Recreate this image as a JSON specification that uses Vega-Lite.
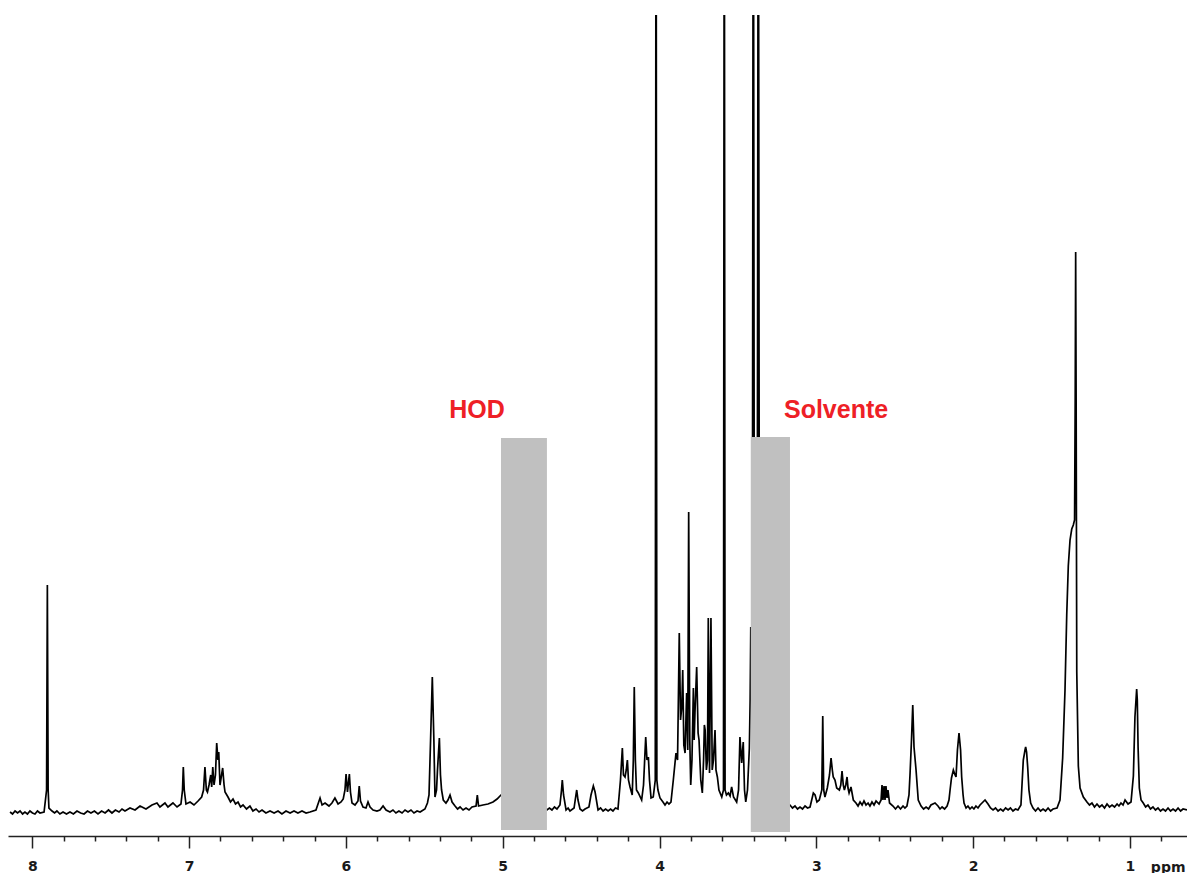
{
  "$schema": "https://vega.github.io/schema/vega-lite/v6.json",
  "width": 1179,
  "height": 821,
  "autosize": "none",
  "padding": {"left": 8, "top": 15, "right": 0, "bottom": 37},
  "background": "white",
  "config": {"view": {"stroke": null}},
  "resolve": {"axis": {"x": "independent"}},
  "layer": [
    {
      "data": {"values": [
        {"ppm":8.142,"intensity":0},{"ppm":8.126,"intensity":-2},{"ppm":8.110,"intensity":1},{"ppm":8.094,"intensity":-1},{"ppm":8.078,"intensity":1},{"ppm":8.062,"intensity":-2},{"ppm":8.047,"intensity":0},{"ppm":8.031,"intensity":-2},{"ppm":8.015,"intensity":1},{"ppm":7.999,"intensity":-1},{"ppm":7.983,"intensity":-2},{"ppm":7.967,"intensity":1},{"ppm":7.951,"intensity":-1},{"ppm":7.925,"intensity":0},
        {"ppm":7.909,"intensity":22},{"ppm":7.904,"intensity":227},{"ppm":7.899,"intensity":22},{"ppm":7.894,"intensity":4},{"ppm":7.874,"intensity":1},
        {"ppm":7.858,"intensity":-1},{"ppm":7.843,"intensity":1},{"ppm":7.824,"intensity":-2},{"ppm":7.804,"intensity":0},{"ppm":7.782,"intensity":-2},{"ppm":7.760,"intensity":0},{"ppm":7.738,"intensity":-2},{"ppm":7.715,"intensity":1},{"ppm":7.692,"intensity":-1},{"ppm":7.670,"intensity":-2},{"ppm":7.648,"intensity":1},{"ppm":7.626,"intensity":-1},{"ppm":7.604,"intensity":1},{"ppm":7.581,"intensity":-2},{"ppm":7.558,"intensity":1},{"ppm":7.536,"intensity":-1},{"ppm":7.514,"intensity":2},{"ppm":7.492,"intensity":-1},{"ppm":7.470,"intensity":2},{"ppm":7.447,"intensity":0},{"ppm":7.428,"intensity":3},{"ppm":7.409,"intensity":1},{"ppm":7.377,"intensity":4},{"ppm":7.345,"intensity":2},{"ppm":7.313,"intensity":6},{"ppm":7.275,"intensity":3},{"ppm":7.237,"intensity":7},{"ppm":7.205,"intensity":9},{"ppm":7.186,"intensity":5},{"ppm":7.154,"intensity":9},{"ppm":7.135,"intensity":5},{"ppm":7.103,"intensity":9},{"ppm":7.077,"intensity":5},{"ppm":7.052,"intensity":8},
        {"ppm":7.042,"intensity":22},{"ppm":7.037,"intensity":45},{"ppm":7.031,"intensity":22},{"ppm":7.020,"intensity":8},{"ppm":6.994,"intensity":10},{"ppm":6.969,"intensity":7},{"ppm":6.943,"intensity":11},{"ppm":6.920,"intensity":15},
        {"ppm":6.908,"intensity":22},{"ppm":6.899,"intensity":45},{"ppm":6.890,"intensity":22},{"ppm":6.883,"intensity":20},{"ppm":6.873,"intensity":27},{"ppm":6.862,"intensity":37},{"ppm":6.856,"intensity":25},{"ppm":6.849,"intensity":45},{"ppm":6.841,"intensity":27},{"ppm":6.832,"intensity":37},{"ppm":6.824,"intensity":69},{"ppm":6.816,"intensity":52},{"ppm":6.811,"intensity":60},{"ppm":6.803,"intensity":27},{"ppm":6.793,"intensity":37},{"ppm":6.786,"intensity":44},{"ppm":6.777,"intensity":27},{"ppm":6.771,"intensity":20},{"ppm":6.752,"intensity":15},{"ppm":6.736,"intensity":10},{"ppm":6.720,"intensity":13},{"ppm":6.704,"intensity":8},{"ppm":6.688,"intensity":10},{"ppm":6.672,"intensity":5},{"ppm":6.656,"intensity":7},{"ppm":6.634,"intensity":3},{"ppm":6.612,"intensity":6},{"ppm":6.593,"intensity":1},{"ppm":6.573,"intensity":3},{"ppm":6.554,"intensity":0},{"ppm":6.535,"intensity":2},{"ppm":6.510,"intensity":-1},{"ppm":6.484,"intensity":1},{"ppm":6.458,"intensity":-1},{"ppm":6.433,"intensity":1},{"ppm":6.408,"intensity":-2},{"ppm":6.382,"intensity":1},{"ppm":6.356,"intensity":-1},{"ppm":6.331,"intensity":1},{"ppm":6.306,"intensity":-1},{"ppm":6.280,"intensity":1},{"ppm":6.254,"intensity":-1},{"ppm":6.229,"intensity":0},
        {"ppm":6.191,"intensity":2},{"ppm":6.165,"intensity":14},{"ppm":6.152,"intensity":7},{"ppm":6.133,"intensity":9},{"ppm":6.108,"intensity":6},{"ppm":6.089,"intensity":9},{"ppm":6.070,"intensity":14},{"ppm":6.050,"intensity":8},{"ppm":6.031,"intensity":10},{"ppm":6.017,"intensity":13},{"ppm":6.006,"intensity":22},{"ppm":5.999,"intensity":38},{"ppm":5.990,"intensity":20},{"ppm":5.978,"intensity":38},{"ppm":5.971,"intensity":20},{"ppm":5.961,"intensity":9},{"ppm":5.942,"intensity":7},{"ppm":5.923,"intensity":11},{"ppm":5.915,"intensity":26},{"ppm":5.907,"intensity":11},{"ppm":5.891,"intensity":5},{"ppm":5.872,"intensity":4},{"ppm":5.859,"intensity":10},{"ppm":5.846,"intensity":5},{"ppm":5.827,"intensity":2},{"ppm":5.802,"intensity":1},{"ppm":5.783,"intensity":2},{"ppm":5.763,"intensity":6},{"ppm":5.744,"intensity":2},{"ppm":5.719,"intensity":0},{"ppm":5.700,"intensity":2},{"ppm":5.681,"intensity":-1},{"ppm":5.662,"intensity":1},{"ppm":5.642,"intensity":-1},{"ppm":5.623,"intensity":2},{"ppm":5.604,"intensity":0},{"ppm":5.585,"intensity":2},{"ppm":5.566,"intensity":-1},{"ppm":5.546,"intensity":1},{"ppm":5.527,"intensity":0},{"ppm":5.496,"intensity":3},
        {"ppm":5.480,"intensity":9},{"ppm":5.470,"intensity":17},{"ppm":5.460,"intensity":72},{"ppm":5.449,"intensity":135},{"ppm":5.439,"intensity":72},{"ppm":5.432,"intensity":15},{"ppm":5.422,"intensity":22},{"ppm":5.416,"intensity":42},{"ppm":5.404,"intensity":74},{"ppm":5.397,"intensity":37},{"ppm":5.390,"intensity":22},{"ppm":5.379,"intensity":12},{"ppm":5.362,"intensity":9},{"ppm":5.349,"intensity":12},{"ppm":5.336,"intensity":17},{"ppm":5.323,"intensity":10},{"ppm":5.304,"intensity":6},{"ppm":5.288,"intensity":3},{"ppm":5.272,"intensity":5},{"ppm":5.253,"intensity":2},{"ppm":5.234,"intensity":4},{"ppm":5.215,"intensity":2},{"ppm":5.196,"intensity":5},{"ppm":5.170,"intensity":6},{"ppm":5.162,"intensity":17},{"ppm":5.154,"intensity":6},{"ppm":5.126,"intensity":7},{"ppm":5.094,"intensity":8},{"ppm":5.062,"intensity":10},{"ppm":5.036,"intensity":13},{"ppm":5.011,"intensity":17},{"ppm":4.864,"intensity":20},
        {"ppm":4.718,"intensity":2},{"ppm":4.702,"intensity":4},{"ppm":4.686,"intensity":2},{"ppm":4.670,"intensity":5},{"ppm":4.654,"intensity":3},{"ppm":4.635,"intensity":7},{"ppm":4.625,"intensity":22},{"ppm":4.620,"intensity":32},{"ppm":4.612,"intensity":17},{"ppm":4.596,"intensity":2},{"ppm":4.583,"intensity":4},{"ppm":4.571,"intensity":1},{"ppm":4.545,"intensity":4},{"ppm":4.533,"intensity":17},{"ppm":4.528,"intensity":22},{"ppm":4.520,"intensity":12},{"ppm":4.507,"intensity":3},{"ppm":4.491,"intensity":1},{"ppm":4.475,"intensity":3},{"ppm":4.450,"intensity":5},{"ppm":4.437,"intensity":17},{"ppm":4.422,"intensity":26},{"ppm":4.411,"intensity":20},{"ppm":4.392,"intensity":2},{"ppm":4.376,"intensity":4},{"ppm":4.360,"intensity":1},{"ppm":4.344,"intensity":3},{"ppm":4.328,"intensity":1},{"ppm":4.312,"intensity":3},{"ppm":4.297,"intensity":1},{"ppm":4.281,"intensity":4},{"ppm":4.265,"intensity":3},
        {"ppm":4.249,"intensity":32},{"ppm":4.237,"intensity":64},{"ppm":4.230,"intensity":37},{"ppm":4.220,"intensity":35},{"ppm":4.212,"intensity":42},{"ppm":4.205,"intensity":52},{"ppm":4.198,"intensity":32},{"ppm":4.188,"intensity":25},{"ppm":4.174,"intensity":17},{"ppm":4.167,"intensity":52},{"ppm":4.161,"intensity":125},{"ppm":4.154,"intensity":52},{"ppm":4.147,"intensity":22},{"ppm":4.135,"intensity":19},{"ppm":4.114,"intensity":12},{"ppm":4.102,"intensity":27},{"ppm":4.088,"intensity":75},{"ppm":4.080,"intensity":52},{"ppm":4.071,"intensity":55},{"ppm":4.064,"intensity":32},{"ppm":4.054,"intensity":14},{"ppm":4.040,"intensity":15},{"ppm":4.027,"intensity":32},{"ppm":4.022,"intensity":1100},{"ppm":4.017,"intensity":32},{"ppm":4.010,"intensity":22},{"ppm":3.997,"intensity":14},{"ppm":3.978,"intensity":10},{"ppm":3.965,"intensity":7},{"ppm":3.952,"intensity":10},{"ppm":3.940,"intensity":8},{"ppm":3.927,"intensity":10},
        {"ppm":3.912,"intensity":32},{"ppm":3.895,"intensity":59},{"ppm":3.885,"intensity":52},{"ppm":3.874,"intensity":179},{"ppm":3.866,"intensity":92},{"ppm":3.858,"intensity":105},{"ppm":3.852,"intensity":142},{"ppm":3.845,"intensity":67},{"ppm":3.837,"intensity":59},{"ppm":3.827,"intensity":119},{"ppm":3.820,"intensity":62},{"ppm":3.814,"intensity":300},{"ppm":3.807,"intensity":72},{"ppm":3.801,"intensity":27},{"ppm":3.793,"intensity":52},{"ppm":3.784,"intensity":124},{"ppm":3.779,"intensity":72},{"ppm":3.774,"intensity":99},{"ppm":3.763,"intensity":145},{"ppm":3.754,"intensity":79},{"ppm":3.748,"intensity":72},{"ppm":3.737,"intensity":32},{"ppm":3.727,"intensity":19},{"ppm":3.719,"intensity":52},{"ppm":3.714,"intensity":87},{"ppm":3.709,"intensity":82},{"ppm":3.701,"intensity":42},{"ppm":3.694,"intensity":52},{"ppm":3.689,"intensity":194},{"ppm":3.681,"intensity":39},{"ppm":3.672,"intensity":194},{"ppm":3.664,"intensity":42},{"ppm":3.656,"intensity":52},{"ppm":3.646,"intensity":82},{"ppm":3.640,"intensity":42},{"ppm":3.631,"intensity":35},{"ppm":3.621,"intensity":22},{"ppm":3.603,"intensity":15},{"ppm":3.592,"intensity":22},{"ppm":3.587,"intensity":1100},{"ppm":3.582,"intensity":22},{"ppm":3.573,"intensity":17},{"ppm":3.561,"intensity":19},{"ppm":3.550,"intensity":16},{"ppm":3.540,"intensity":25},{"ppm":3.528,"intensity":15},{"ppm":3.508,"intensity":10},{"ppm":3.496,"intensity":22},{"ppm":3.487,"intensity":75},{"ppm":3.476,"intensity":49},{"ppm":3.466,"intensity":70},{"ppm":3.458,"intensity":22},{"ppm":3.450,"intensity":10},{"ppm":3.439,"intensity":22},{"ppm":3.427,"intensity":64},{"ppm":3.422,"intensity":112},{"ppm":3.418,"intensity":185},{"ppm":3.413,"intensity":112},{"ppm":3.407,"intensity":300},{"ppm":3.402,"intensity":1100},{"ppm":3.396,"intensity":300},{"ppm":3.376,"intensity":300},{"ppm":3.370,"intensity":1100},{"ppm":3.364,"intensity":300},{"ppm":3.295,"intensity":22},
        {"ppm":3.168,"intensity":7},{"ppm":3.152,"intensity":4},{"ppm":3.136,"intensity":6},{"ppm":3.120,"intensity":3},{"ppm":3.104,"intensity":5},{"ppm":3.088,"intensity":3},{"ppm":3.072,"intensity":6},{"ppm":3.056,"intensity":4},{"ppm":3.040,"intensity":5},{"ppm":3.019,"intensity":19},{"ppm":3.008,"intensity":17},{"ppm":2.996,"intensity":10},{"ppm":2.981,"intensity":12},{"ppm":2.965,"intensity":22},{"ppm":2.959,"intensity":96},{"ppm":2.953,"intensity":22},{"ppm":2.945,"intensity":15},{"ppm":2.930,"intensity":24},{"ppm":2.916,"intensity":37},{"ppm":2.906,"intensity":54},{"ppm":2.898,"intensity":42},{"ppm":2.892,"intensity":35},{"ppm":2.881,"intensity":32},{"ppm":2.870,"intensity":24},{"ppm":2.853,"intensity":22},{"ppm":2.844,"intensity":27},{"ppm":2.836,"intensity":41},{"ppm":2.828,"intensity":27},{"ppm":2.821,"intensity":22},{"ppm":2.812,"intensity":27},{"ppm":2.804,"intensity":35},{"ppm":2.798,"intensity":24},{"ppm":2.791,"intensity":19},{"ppm":2.785,"intensity":22},{"ppm":2.779,"intensity":25},{"ppm":2.764,"intensity":12},{"ppm":2.747,"intensity":9},{"ppm":2.734,"intensity":6},{"ppm":2.721,"intensity":10},{"ppm":2.708,"intensity":7},{"ppm":2.696,"intensity":11},{"ppm":2.683,"intensity":7},{"ppm":2.670,"intensity":9},{"ppm":2.658,"intensity":6},{"ppm":2.645,"intensity":10},{"ppm":2.632,"intensity":7},{"ppm":2.619,"intensity":11},{"ppm":2.600,"intensity":8},
        {"ppm":2.587,"intensity":12},{"ppm":2.581,"intensity":27},{"ppm":2.575,"intensity":12},{"ppm":2.568,"intensity":26},{"ppm":2.562,"intensity":12},{"ppm":2.556,"intensity":26},{"ppm":2.549,"intensity":14},{"ppm":2.543,"intensity":22},{"ppm":2.533,"intensity":9},{"ppm":2.511,"intensity":6},{"ppm":2.495,"intensity":3},{"ppm":2.479,"intensity":6},{"ppm":2.463,"intensity":3},{"ppm":2.447,"intensity":6},{"ppm":2.435,"intensity":4},{"ppm":2.422,"intensity":6},{"ppm":2.409,"intensity":17},{"ppm":2.402,"intensity":39},{"ppm":2.393,"intensity":72},{"ppm":2.385,"intensity":107},{"ppm":2.377,"intensity":65},{"ppm":2.364,"intensity":42},{"ppm":2.350,"intensity":12},{"ppm":2.332,"intensity":6},{"ppm":2.316,"intensity":3},{"ppm":2.300,"intensity":5},{"ppm":2.284,"intensity":3},{"ppm":2.269,"intensity":7},{"ppm":2.243,"intensity":9},{"ppm":2.224,"intensity":6},{"ppm":2.211,"intensity":3},{"ppm":2.198,"intensity":5},{"ppm":2.182,"intensity":3},{"ppm":2.166,"intensity":6},
        {"ppm":2.154,"intensity":12},{"ppm":2.147,"intensity":22},{"ppm":2.138,"intensity":34},{"ppm":2.126,"intensity":42},{"ppm":2.115,"intensity":37},{"ppm":2.109,"intensity":35},{"ppm":2.100,"intensity":62},{"ppm":2.090,"intensity":79},{"ppm":2.080,"intensity":62},{"ppm":2.073,"intensity":35},{"ppm":2.064,"intensity":17},{"ppm":2.058,"intensity":9},{"ppm":2.045,"intensity":4},{"ppm":2.033,"intensity":6},{"ppm":2.020,"intensity":3},{"ppm":2.007,"intensity":5},{"ppm":1.995,"intensity":3},{"ppm":1.982,"intensity":6},{"ppm":1.969,"intensity":4},{"ppm":1.956,"intensity":7},{"ppm":1.937,"intensity":10},{"ppm":1.924,"intensity":12},{"ppm":1.905,"intensity":8},{"ppm":1.889,"intensity":4},{"ppm":1.873,"intensity":2},{"ppm":1.857,"intensity":4},{"ppm":1.841,"intensity":1},{"ppm":1.825,"intensity":3},{"ppm":1.809,"intensity":1},{"ppm":1.793,"intensity":4},{"ppm":1.777,"intensity":2},{"ppm":1.762,"intensity":4},{"ppm":1.746,"intensity":1},{"ppm":1.730,"intensity":3},{"ppm":1.714,"intensity":2},
        {"ppm":1.695,"intensity":7},{"ppm":1.680,"intensity":52},{"ppm":1.669,"intensity":62},{"ppm":1.665,"intensity":65},{"ppm":1.659,"intensity":60},{"ppm":1.652,"intensity":45},{"ppm":1.644,"intensity":22},{"ppm":1.633,"intensity":9},{"ppm":1.618,"intensity":4},{"ppm":1.602,"intensity":1},{"ppm":1.586,"intensity":4},{"ppm":1.570,"intensity":1},{"ppm":1.554,"intensity":3},{"ppm":1.538,"intensity":1},{"ppm":1.522,"intensity":4},{"ppm":1.506,"intensity":1},{"ppm":1.490,"intensity":3},{"ppm":1.465,"intensity":4},
        {"ppm":1.446,"intensity":12},{"ppm":1.429,"intensity":54},{"ppm":1.414,"intensity":122},{"ppm":1.403,"intensity":197},{"ppm":1.393,"intensity":246},{"ppm":1.382,"intensity":272},{"ppm":1.371,"intensity":283},{"ppm":1.361,"intensity":287},{"ppm":1.353,"intensity":292},{"ppm":1.349,"intensity":412},{"ppm":1.346,"intensity":560},{"ppm":1.343,"intensity":412},{"ppm":1.339,"intensity":140},{"ppm":1.329,"intensity":46},{"ppm":1.318,"intensity":24},{"ppm":1.297,"intensity":15},{"ppm":1.274,"intensity":10},{"ppm":1.258,"intensity":7},{"ppm":1.242,"intensity":9},{"ppm":1.226,"intensity":5},{"ppm":1.210,"intensity":8},{"ppm":1.194,"intensity":5},{"ppm":1.178,"intensity":7},{"ppm":1.162,"intensity":4},{"ppm":1.146,"intensity":8},{"ppm":1.130,"intensity":5},{"ppm":1.114,"intensity":7},{"ppm":1.098,"intensity":5},{"ppm":1.082,"intensity":8},{"ppm":1.070,"intensity":6},{"ppm":1.057,"intensity":9},{"ppm":1.044,"intensity":7},{"ppm":1.031,"intensity":12},{"ppm":1.012,"intensity":8},{"ppm":0.993,"intensity":10},
        {"ppm":0.978,"intensity":36},{"ppm":0.968,"intensity":95},{"ppm":0.957,"intensity":123},{"ppm":0.953,"intensity":112},{"ppm":0.948,"intensity":65},{"ppm":0.940,"intensity":24},{"ppm":0.929,"intensity":12},{"ppm":0.915,"intensity":9},{"ppm":0.900,"intensity":5},{"ppm":0.885,"intensity":7},{"ppm":0.869,"intensity":3},{"ppm":0.853,"intensity":5},{"ppm":0.837,"intensity":2},{"ppm":0.821,"intensity":4},{"ppm":0.805,"intensity":1},{"ppm":0.789,"intensity":3},{"ppm":0.773,"intensity":1},{"ppm":0.757,"intensity":4},{"ppm":0.741,"intensity":1},{"ppm":0.725,"intensity":3},{"ppm":0.709,"intensity":1},{"ppm":0.693,"intensity":4},{"ppm":0.677,"intensity":1},{"ppm":0.661,"intensity":3},{"ppm":0.636,"intensity":2}
      ]},
      "mark": {"type": "line", "color": "#000000", "strokeWidth": 1.7, "clip": true},
      "encoding": {
        "x": {
          "field": "ppm", "type": "quantitative",
          "scale": {"domain": [0.636, 8.155], "reverse": true, "nice": false, "zero": false},
          "axis": {
            "orient": "bottom",
            "values": [8, 7, 6, 5, 4, 3, 2, 1],
            "tickCount": 50,
            "format": "d",
            "labelFont": "DejaVu Sans", "labelFontWeight": "bold", "labelFontSize": 14, "labelColor": "#1a1a1a",
            "labelBaseline": "middle", "labelPadding": 18.5, "labelOverlap": false, "labelFlush": false, "labelAngle": 0,
            "tickSize": 12, "tickWidth": 1.5, "tickColor": "#222222",
            "domainColor": "#222222", "domainWidth": 1.5, "grid": false,
            "title": "ppm", "titleX": 1177, "titleY": 31, "titleAlign": "right", "titleBaseline": "middle",
            "titleFont": "DejaVu Sans", "titleFontWeight": "bold", "titleFontSize": 14, "titleColor": "#1a1a1a"
          }
        },
        "y": {
          "field": "intensity", "type": "quantitative",
          "scale": {"domain": [-24, 797], "nice": false, "zero": false},
          "axis": null
        }
      }
    },
    {
      "data": {"values": [
        {"from": 5.011, "to": 4.718, "low": -18, "high": 374},
        {"from": 3.418, "to": 3.168, "low": -20, "high": 375}
      ]},
      "mark": {"type": "rect", "color": "#c0c0c0"},
      "encoding": {
        "x": {
          "field": "from", "type": "quantitative",
          "axis": {
            "orient": "bottom",
            "values": [7.8, 7.6, 7.4, 7.2, 6.8, 6.6, 6.4, 6.2, 5.8, 5.6, 5.4, 5.2, 4.8, 4.6, 4.4, 4.2, 3.8, 3.6, 3.4, 3.2, 2.8, 2.6, 2.4, 2.2, 1.8, 1.6, 1.4, 1.2, 0.8],
            "tickCount": 100,
            "labels": false, "domain": false, "grid": false, "title": null,
            "tickSize": 5, "tickWidth": 1.5, "tickColor": "#222222"
          }
        },
        "x2": {"field": "to"},
        "y": {"field": "low", "type": "quantitative", "axis": null},
        "y2": {"field": "high"}
      }
    },
    {
      "data": {"values": [
        {"label": "HOD", "ppm": 5.164, "intensity": 402},
        {"label": "Solvente", "ppm": 2.874, "intensity": 402}
      ]},
      "mark": {"type": "text", "font": "Liberation Sans", "fontWeight": "bold", "fontSize": 25, "color": "#ee2026", "align": "center", "baseline": "middle"},
      "encoding": {
        "x": {"field": "ppm", "type": "quantitative", "axis": null},
        "y": {"field": "intensity", "type": "quantitative", "axis": null},
        "text": {"field": "label"}
      }
    }
  ]
}
